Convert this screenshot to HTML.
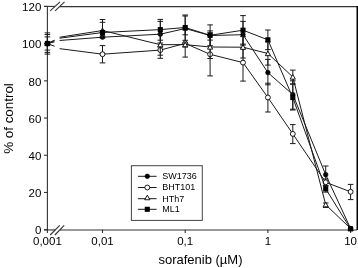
<!DOCTYPE html>
<html><head><meta charset="utf-8"><style>
html,body{margin:0;padding:0;background:#fff;width:358px;height:268px;overflow:hidden}
svg{display:block;will-change:transform}
text{fill:#000}
</style></head><body>
<svg width="358" height="268" viewBox="0 0 358 268"><g stroke="#333" stroke-width="1.1" fill="none">
<line x1="47.4" y1="6.4" x2="47.4" y2="233"/>
<line x1="44" y1="229.70" x2="47.4" y2="229.70"/>
<line x1="44" y1="192.48" x2="47.4" y2="192.48"/>
<line x1="44" y1="155.27" x2="47.4" y2="155.27"/>
<line x1="44" y1="118.05" x2="47.4" y2="118.05"/>
<line x1="44" y1="80.83" x2="47.4" y2="80.83"/>
<line x1="44" y1="43.62" x2="47.4" y2="43.62"/>
<line x1="44" y1="6.40" x2="47.4" y2="6.40"/>
<line x1="44" y1="229.95" x2="55.4" y2="229.95"/>
<line x1="60" y1="229.95" x2="357" y2="229.95"/>
<line x1="44" y1="6.4" x2="55" y2="6.4"/>
<line x1="59.7" y1="6.6" x2="357" y2="6.6"/>
<line x1="102.50" y1="229.7" x2="102.50" y2="233"/>
<line x1="185.20" y1="229.7" x2="185.20" y2="233"/>
<line x1="267.90" y1="229.7" x2="267.90" y2="233"/>
<line x1="350.60" y1="229.7" x2="350.60" y2="233"/>
<line x1="50.2" y1="235" x2="59.7" y2="225.3"/>
<line x1="54.9" y1="235" x2="64.2" y2="225.3"/>
<line x1="50.2" y1="10.9" x2="60" y2="1.8"/>
<line x1="55.1" y1="10.9" x2="64.5" y2="1.8"/>
</g>
<rect x="356.5" y="6" width="1.5" height="224" fill="#000"/>
<path d="M47.40,43.50 L54.60,41.85 M59.60,40.47 L102.50,37.20 L160.30,34.20 L185.20,28.50 L210.10,35.50 L243.00,34.70 L267.90,72.60 L292.80,94.60 L325.70,174.70 L350.60,228.50" fill="none" stroke="#1a1a1a" stroke-width="1"/>
<path d="M47.40,32.90 V54.10 M44.60,32.90 H50.20 M44.60,54.10 H50.20 M160.30,21.40 V47.00 M157.50,21.40 H163.10 M157.50,47.00 H163.10 M185.20,16.00 V34.80 M182.40,16.00 H188.00 M182.40,34.80 H188.00 M210.10,30.90 V40.10 M207.30,30.90 H212.90 M207.30,40.10 H212.90 M243.00,21.40 V48.00 M240.20,21.40 H245.80 M240.20,48.00 H245.80 M267.90,59.40 V84.80 M265.10,59.40 H270.70 M265.10,84.80 H270.70 M292.80,84.00 V110.00 M290.00,84.00 H295.60 M290.00,110.00 H295.60 M325.70,166.00 V183.00 M322.90,166.00 H328.50 M322.90,183.00 H328.50" fill="none" stroke="#1a1a1a" stroke-width="1"/>
<circle cx="47.40" cy="43.50" r="2.35" fill="#000" stroke="#000" stroke-width="0.5"/>
<circle cx="102.50" cy="37.20" r="2.35" fill="#000" stroke="#000" stroke-width="0.5"/>
<circle cx="160.30" cy="34.20" r="2.35" fill="#000" stroke="#000" stroke-width="0.5"/>
<circle cx="185.20" cy="28.50" r="2.35" fill="#000" stroke="#000" stroke-width="0.5"/>
<circle cx="210.10" cy="35.50" r="2.35" fill="#000" stroke="#000" stroke-width="0.5"/>
<circle cx="243.00" cy="34.70" r="2.35" fill="#000" stroke="#000" stroke-width="0.5"/>
<circle cx="267.90" cy="72.60" r="2.35" fill="#000" stroke="#000" stroke-width="0.5"/>
<circle cx="292.80" cy="94.60" r="2.35" fill="#000" stroke="#000" stroke-width="0.5"/>
<circle cx="325.70" cy="174.70" r="2.35" fill="#000" stroke="#000" stroke-width="0.5"/>
<circle cx="350.60" cy="228.50" r="2.35" fill="#000" stroke="#000" stroke-width="0.5"/>
<path d="M47.40,43.50 L54.60,46.29 M59.60,48.65 L102.50,54.20 L160.30,50.10 L185.20,43.40 L210.10,54.30 L243.00,62.60 L267.90,97.50 L292.80,133.90 L325.70,182.30 L350.60,191.80" fill="none" stroke="#1a1a1a" stroke-width="1"/>
<path d="M47.40,34.60 V52.40 M44.60,34.60 H50.20 M44.60,52.40 H50.20 M102.50,45.60 V62.90 M99.70,45.60 H105.30 M99.70,62.90 H105.30 M160.30,43.00 V58.30 M157.50,43.00 H163.10 M157.50,58.30 H163.10 M185.20,30.00 V57.10 M182.40,30.00 H188.00 M182.40,57.10 H188.00 M210.10,32.70 V75.90 M207.30,32.70 H212.90 M207.30,75.90 H212.90 M243.00,44.10 V81.10 M240.20,44.10 H245.80 M240.20,81.10 H245.80 M267.90,83.20 V112.00 M265.10,83.20 H270.70 M265.10,112.00 H270.70 M292.80,124.60 V143.60 M290.00,124.60 H295.60 M290.00,143.60 H295.60 M325.70,179.00 V185.50 M322.90,179.00 H328.50 M322.90,185.50 H328.50 M350.60,184.40 V199.60 M347.80,184.40 H353.40 M347.80,199.60 H353.40" fill="none" stroke="#1a1a1a" stroke-width="1"/>
<circle cx="47.40" cy="43.50" r="2.45" fill="#fff" stroke="#000" stroke-width="0.9"/>
<circle cx="102.50" cy="54.20" r="2.45" fill="#fff" stroke="#000" stroke-width="0.9"/>
<circle cx="160.30" cy="50.10" r="2.45" fill="#fff" stroke="#000" stroke-width="0.9"/>
<circle cx="185.20" cy="43.40" r="2.45" fill="#fff" stroke="#000" stroke-width="0.9"/>
<circle cx="210.10" cy="54.30" r="2.45" fill="#fff" stroke="#000" stroke-width="0.9"/>
<circle cx="243.00" cy="62.60" r="2.45" fill="#fff" stroke="#000" stroke-width="0.9"/>
<circle cx="267.90" cy="97.50" r="2.45" fill="#fff" stroke="#000" stroke-width="0.9"/>
<circle cx="292.80" cy="133.90" r="2.45" fill="#fff" stroke="#000" stroke-width="0.9"/>
<circle cx="325.70" cy="182.30" r="2.45" fill="#fff" stroke="#000" stroke-width="0.9"/>
<circle cx="350.60" cy="191.80" r="2.45" fill="#fff" stroke="#000" stroke-width="0.9"/>
<path d="M47.40,43.50 L54.60,40.10 M59.60,37.24 L102.50,30.50 L160.30,44.70 L185.20,44.60 L210.10,47.00 L243.00,47.20 L267.90,53.50 L292.80,77.00 L325.70,204.70 L350.60,228.50" fill="none" stroke="#1a1a1a" stroke-width="1"/>
<path d="M47.40,36.90 V50.10 M44.60,36.90 H50.20 M44.60,50.10 H50.20 M102.50,22.30 V36.00 M99.70,22.30 H105.30 M99.70,36.00 H105.30 M160.30,34.20 V55.20 M157.50,34.20 H163.10 M157.50,55.20 H163.10 M185.20,43.00 V47.00 M182.40,43.00 H188.00 M182.40,47.00 H188.00 M210.10,35.50 V58.50 M207.30,35.50 H212.90 M207.30,58.50 H212.90 M243.00,36.60 V58.00 M240.20,36.60 H245.80 M240.20,58.00 H245.80 M267.90,41.90 V65.10 M265.10,41.90 H270.70 M265.10,65.10 H270.70 M292.80,70.10 V84.10 M290.00,70.10 H295.60 M290.00,84.10 H295.60 M325.70,203.00 V207.40 M322.90,203.00 H328.50 M322.90,207.40 H328.50" fill="none" stroke="#1a1a1a" stroke-width="1"/>
<polygon points="47.40,41.05 50.00,45.65 44.80,45.65" fill="#fff" stroke="#000" stroke-width="0.9" stroke-linejoin="miter"/>
<polygon points="102.50,28.05 105.10,32.65 99.90,32.65" fill="#fff" stroke="#000" stroke-width="0.9" stroke-linejoin="miter"/>
<polygon points="160.30,42.25 162.90,46.85 157.70,46.85" fill="#fff" stroke="#000" stroke-width="0.9" stroke-linejoin="miter"/>
<polygon points="185.20,42.15 187.80,46.75 182.60,46.75" fill="#fff" stroke="#000" stroke-width="0.9" stroke-linejoin="miter"/>
<polygon points="210.10,44.55 212.70,49.15 207.50,49.15" fill="#fff" stroke="#000" stroke-width="0.9" stroke-linejoin="miter"/>
<polygon points="243.00,44.75 245.60,49.35 240.40,49.35" fill="#fff" stroke="#000" stroke-width="0.9" stroke-linejoin="miter"/>
<polygon points="267.90,51.05 270.50,55.65 265.30,55.65" fill="#fff" stroke="#000" stroke-width="0.9" stroke-linejoin="miter"/>
<polygon points="292.80,74.55 295.40,79.15 290.20,79.15" fill="#fff" stroke="#000" stroke-width="0.9" stroke-linejoin="miter"/>
<polygon points="325.70,202.25 328.30,206.85 323.10,206.85" fill="#fff" stroke="#000" stroke-width="0.9" stroke-linejoin="miter"/>
<polygon points="350.60,226.05 353.20,230.65 348.00,230.65" fill="#fff" stroke="#000" stroke-width="0.9" stroke-linejoin="miter"/>
<path d="M47.40,43.50 L54.60,40.63 M59.60,38.21 L102.50,32.50 L160.30,29.60 L185.20,27.50 L210.10,35.30 L243.00,30.20 L267.90,39.80 L292.80,97.60 L325.70,188.80 L350.60,228.80" fill="none" stroke="#1a1a1a" stroke-width="1"/>
<path d="M102.50,19.50 V38.00 M99.70,19.50 H105.30 M99.70,38.00 H105.30 M160.30,19.40 V40.20 M157.50,19.40 H163.10 M157.50,40.20 H163.10 M185.20,15.00 V40.30 M182.40,15.00 H188.00 M182.40,40.30 H188.00 M210.10,24.90 V45.70 M207.30,24.90 H212.90 M207.30,45.70 H212.90 M243.00,15.60 V45.10 M240.20,15.60 H245.80 M240.20,45.10 H245.80 M267.90,30.00 V49.60 M265.10,30.00 H270.70 M265.10,49.60 H270.70 M292.80,80.80 V109.20 M290.00,80.80 H295.60 M290.00,109.20 H295.60 M325.70,186.00 V192.10 M322.90,186.00 H328.50 M322.90,192.10 H328.50" fill="none" stroke="#1a1a1a" stroke-width="1"/>
<rect x="44.85" y="40.95" width="5.1" height="5.1" fill="#000"/>
<rect x="99.95" y="29.95" width="5.1" height="5.1" fill="#000"/>
<rect x="157.75" y="27.05" width="5.1" height="5.1" fill="#000"/>
<rect x="182.65" y="24.95" width="5.1" height="5.1" fill="#000"/>
<rect x="207.55" y="32.75" width="5.1" height="5.1" fill="#000"/>
<rect x="240.45" y="27.65" width="5.1" height="5.1" fill="#000"/>
<rect x="265.35" y="37.25" width="5.1" height="5.1" fill="#000"/>
<rect x="290.25" y="95.05" width="5.1" height="5.1" fill="#000"/>
<rect x="323.15" y="186.25" width="5.1" height="5.1" fill="#000"/>
<rect x="348.05" y="226.25" width="5.1" height="5.1" fill="#000"/>
<text x="41.3" y="234.40" font-size="11.5" text-anchor="end" font-family="Liberation Sans, sans-serif">0</text>
<text x="41.3" y="197.18" font-size="11.5" text-anchor="end" font-family="Liberation Sans, sans-serif">20</text>
<text x="41.3" y="159.97" font-size="11.5" text-anchor="end" font-family="Liberation Sans, sans-serif">40</text>
<text x="41.3" y="122.75" font-size="11.5" text-anchor="end" font-family="Liberation Sans, sans-serif">60</text>
<text x="41.3" y="85.53" font-size="11.5" text-anchor="end" font-family="Liberation Sans, sans-serif">80</text>
<text x="41.3" y="48.32" font-size="11.5" text-anchor="end" font-family="Liberation Sans, sans-serif">100</text>
<text x="41.3" y="11.10" font-size="11.5" text-anchor="end" font-family="Liberation Sans, sans-serif">120</text>
<text x="47.40" y="245" font-size="11.5" text-anchor="middle" font-family="Liberation Sans, sans-serif">0,001</text>
<text x="102.50" y="245" font-size="11.5" text-anchor="middle" font-family="Liberation Sans, sans-serif">0,01</text>
<text x="185.20" y="245" font-size="11.5" text-anchor="middle" font-family="Liberation Sans, sans-serif">0,1</text>
<text x="267.90" y="245" font-size="11.5" text-anchor="middle" font-family="Liberation Sans, sans-serif">1</text>
<text x="350.60" y="245" font-size="11.5" text-anchor="middle" font-family="Liberation Sans, sans-serif">10</text>
<text x="200.5" y="263.6" font-size="13" text-anchor="middle" font-family="Liberation Sans, sans-serif">sorafenib (µM)</text>
<text transform="translate(12.7,118.5) rotate(-90)" x="0" y="0" font-size="13.4" text-anchor="middle" font-family="Liberation Sans, sans-serif">% of control</text>
<rect x="131.4" y="165.7" width="70.9" height="54.7" fill="#fff" stroke="#444" stroke-width="1"/>
<line x1="137.9" y1="176.3" x2="156.6" y2="176.3" stroke="#1a1a1a" stroke-width="1"/>
<circle cx="147.30" cy="176.30" r="2.35" fill="#000" stroke="#000" stroke-width="0.5"/>
<text x="162.2" y="179.20" font-size="9" font-family="Liberation Sans, sans-serif">SW1736</text>
<line x1="137.9" y1="187.5" x2="156.6" y2="187.5" stroke="#1a1a1a" stroke-width="1"/>
<circle cx="147.30" cy="187.50" r="2.45" fill="#fff" stroke="#000" stroke-width="0.9"/>
<text x="162.2" y="190.40" font-size="9" font-family="Liberation Sans, sans-serif">BHT101</text>
<line x1="137.9" y1="198.7" x2="156.6" y2="198.7" stroke="#1a1a1a" stroke-width="1"/>
<polygon points="147.30,195.15 149.90,199.75 144.70,199.75" fill="#fff" stroke="#000" stroke-width="0.9" stroke-linejoin="miter"/>
<text x="162.2" y="201.60" font-size="9" font-family="Liberation Sans, sans-serif">HTh7</text>
<line x1="137.9" y1="209.3" x2="156.6" y2="209.3" stroke="#1a1a1a" stroke-width="1"/>
<rect x="144.75" y="206.75" width="5.1" height="5.1" fill="#000"/>
<text x="162.2" y="212.20" font-size="9" font-family="Liberation Sans, sans-serif">ML1</text></svg>
</body></html>
